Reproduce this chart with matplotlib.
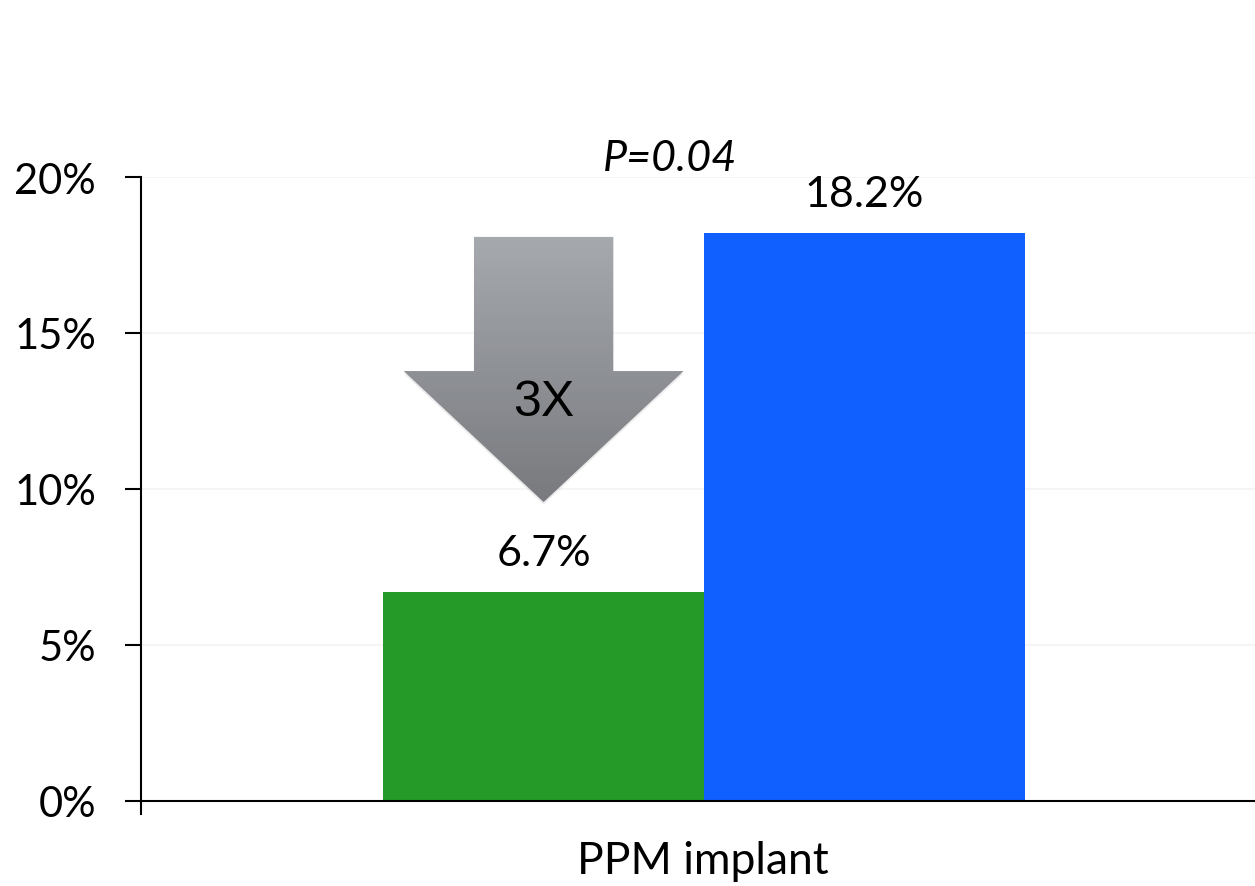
import matplotlib.pyplot as plt
import numpy as np
from matplotlib.patches import Polygon
from matplotlib.ticker import FuncFormatter

category = 'PPM implant'
groups = ['6.7%', '18.2%']
values = [6.7, 18.2]
colors = ['#259a29', '#105fff']
p_text = 'P=0.04'
fold_text = '3X'

label_font = 'Lato'

fig = plt.figure(figsize=(12.55, 8.87), dpi=100)
ax = fig.add_axes([0.1124, 0.0812, 0.8876, 0.7181])

x = np.array([-0.5, 0.5])
bars = ax.bar(x, values, width=1.0, color=colors, zorder=2)

ax.set_xlim(-1.754, 1.716)
ax.set_ylim(-0.42, 20)
ax.set_yticks([0, 5, 10, 15, 20])
ax.yaxis.set_major_formatter(FuncFormatter(lambda v, p: '%d%%' % v))
ax.set_xticks([])
ax.grid(axis='y', color='#f3f3f3', linewidth=1.2, zorder=0)

for s in ['top', 'right', 'bottom']:
    ax.spines[s].set_visible(False)
ax.spines['left'].set_linewidth(1.5)
ax.axhline(0, color='black', linewidth=1.5, zorder=3)
ax.tick_params(axis='y', length=11.5, width=1.5, pad=21, labelsize=30)
for t in ax.get_yticklabels():
    t.set_fontfamily(label_font)

# value labels above the bars
for b, v, txt in zip(bars, values, groups):
    ax.annotate(txt, (b.get_x() + b.get_width() / 2, v), xytext=(0, 28),
                textcoords='offset points', ha='center', va='center',
                fontsize=31, family=label_font)

ax.text(-0.105, 20.6, p_text, ha='center', va='center', fontsize=31,
        style='italic', family=label_font)

# gray down arrow with vertical gradient
cx = x[0]
shaft, head = 0.217, 0.436
top, base, tip = 18.08, 13.78, 9.58
pts = [(cx - shaft, top), (cx + shaft, top), (cx + shaft, base),
       (cx + head, base), (cx, tip), (cx - head, base), (cx - shaft, base)]

shadow = Polygon([(px, py - 0.08) for px, py in pts], closed=True,
                 facecolor='#000000', alpha=0.08, edgecolor='none', zorder=3)
ax.add_patch(shadow)

arrow = Polygon(pts, closed=True, facecolor='none', edgecolor='none', zorder=4)
ax.add_patch(arrow)
c_top = np.array([166, 169, 174]) / 255
c_bot = np.array([120, 122, 126]) / 255
t = np.linspace(0, 1, 256)[:, None]
grad = (c_top * (1 - t) + c_bot * t)[:, None, :]
img = ax.imshow(grad, extent=[cx - head, cx + head, tip, top], origin='upper',
                aspect='auto', zorder=4)
img.set_clip_path(arrow)

ax.text(cx, 12.8, fold_text, ha='center', va='center', fontsize=36,
        family='Liberation Sans', zorder=5)

fig.text(0.5602, 0.0282, category, ha='center', va='center', fontsize=32,
         family=label_font)

fig.savefig('out.png', dpi=100)
